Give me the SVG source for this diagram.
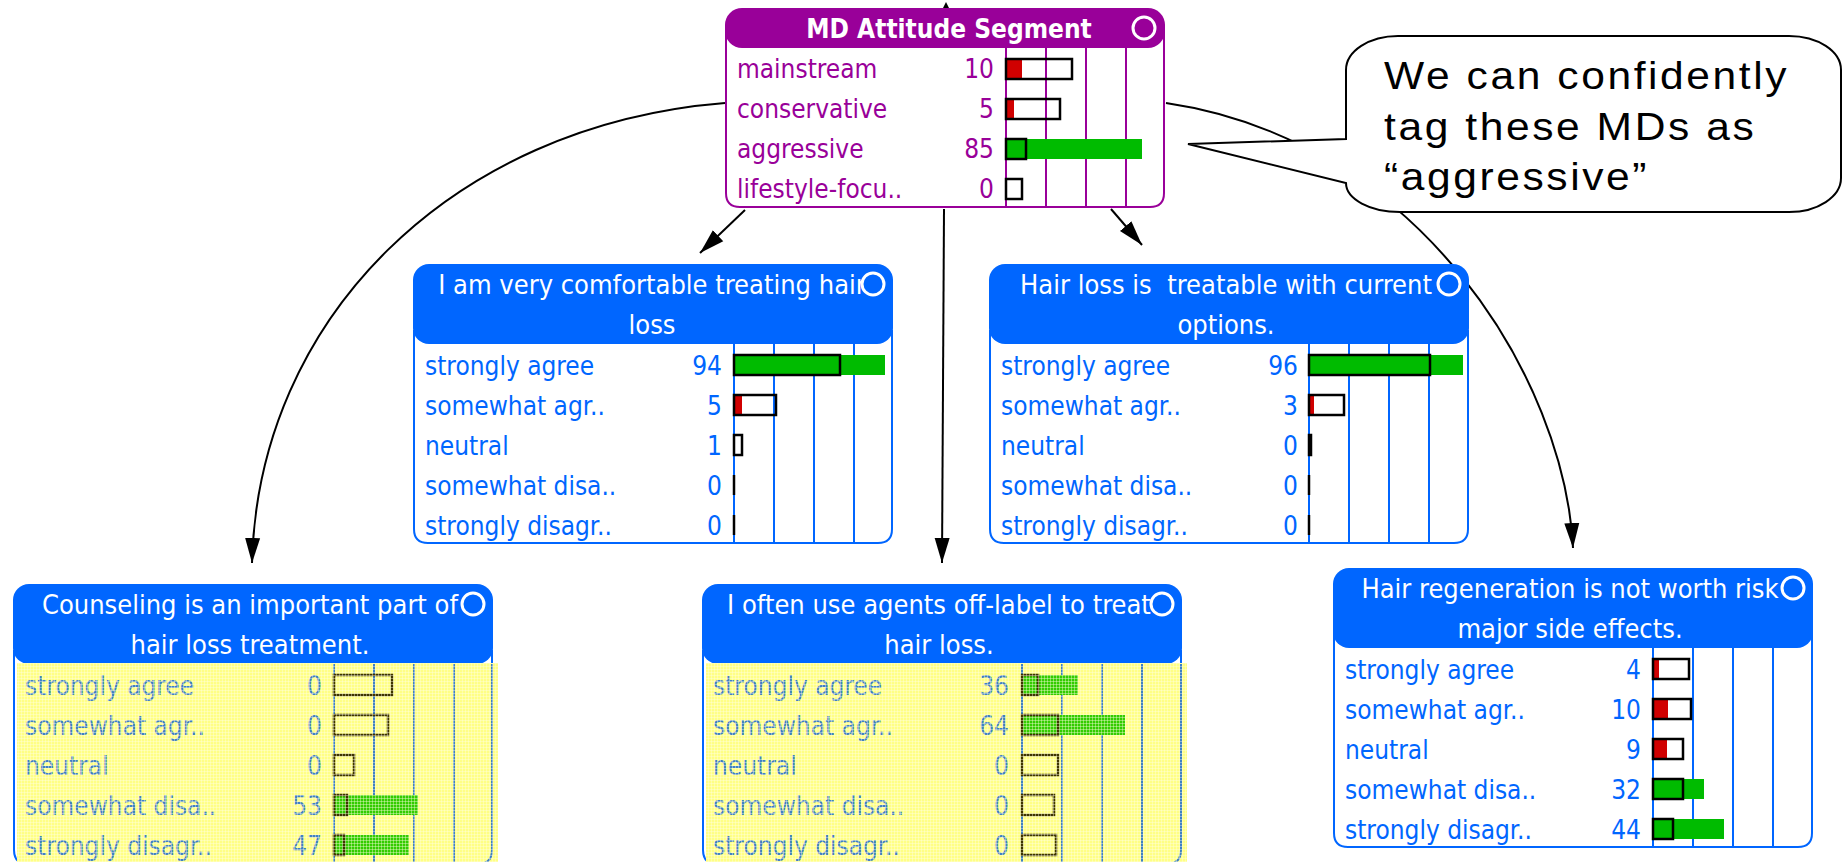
<svg xmlns="http://www.w3.org/2000/svg" width="1844" height="862" viewBox="0 0 1844 862">
  <style>
    .t { font-family: 'DejaVu Sans Condensed', 'DejaVu Sans', sans-serif; font-stretch: condensed; font-size: 26px; }
    .hd { fill: #ffffff; text-anchor: middle; font-size: 27px; }
    .ttl { font-weight: bold; font-size: 26px; }
    .val { text-anchor: end; }
    .pu { fill: #990099; }
    .bl { fill: #0066ff; }
    .mt { fill: #3f80c4; }
    .body-pu { fill: #ffffff; stroke: #990099; stroke-width: 2; }
    .body-bl { fill: #ffffff; stroke: #0066ff; stroke-width: 2; }
    .grid-pu { stroke: #990099; stroke-width: 2; }
    .grid-bl { stroke: #0066ff; stroke-width: 2; }
    .grid-mt { stroke: #3f80c4; stroke-width: 2; fill: none; }
    .box { fill: none; stroke: #000000; stroke-width: 2.5; }
    .box-mt { fill: none; stroke: #3d3300; stroke-width: 2.5; }
    .zero { stroke: #000000; stroke-width: 2.5; }
    .red { fill: #d00000; }
    .grn { fill: #00bb00; }
    .grn-mt { fill: #33cc00; }
    .yel { fill: #ffff85; }
    .icon { stroke: #ffffff; stroke-width: 3; }
    .edge { fill: none; stroke: #000000; stroke-width: 2; }
    .note { font-family: 'Liberation Sans', Arial, sans-serif; font-size: 38px; letter-spacing: 2.3px; fill: #000000; }
  </style>
  <defs>
    <marker id="arrow" markerUnits="userSpaceOnUse" markerWidth="26" markerHeight="16" refX="25" refY="8" orient="auto">
      <path d="M0,0.5 L25,8 L0,15.5 Z" fill="#000000"/>
    </marker>
    <!-- fine light grid laid over the evidence (yellow) panels -->
    <pattern id="hatch" width="3" height="3" patternUnits="userSpaceOnUse">
      <rect width="3" height="1" fill="#ffffe0" fill-opacity="0.4"/>
      <rect width="1" height="3" fill="#ffffe0" fill-opacity="0.4"/>
    </pattern>
  </defs>

  <rect width="1844" height="862" fill="#ffffff"/>

  <!-- connectors -->
  <g id="connectors">
    <path class="edge" d="M725,103 C450,125 258,320 252,563" marker-end="url(#arrow)"/>
    <path class="edge" d="M745,210 L700,253" marker-end="url(#arrow)"/>
    <path class="edge" d="M944,209 L942,563" marker-end="url(#arrow)"/>
    <path class="edge" d="M1111,209 L1142,245" marker-end="url(#arrow)"/>
    <path class="edge" d="M1166,103 C1420,140 1565,380 1573,548" marker-end="url(#arrow)"/>
    <path d="M946,2 L941,12 L951,12 Z" fill="#000000"/>
    <path class="edge" d="M392,892 L362,853" marker-end="url(#arrow)"/>
    <path class="edge" d="M770,892 L786,856" marker-end="url(#arrow)"/>
  </g>

  <!-- MD Attitude Segment -->
  <g id="md-attitude-segment" class="t">
    <path class="body-pu" d="M726,30 V193 Q726,207 740,207 H1150 Q1164,207 1164,193 V30"/>
    <g class="grid-pu">
      <line x1="1006" y1="48" x2="1006" y2="207"/>
      <line x1="1046" y1="48" x2="1046" y2="207"/>
      <line x1="1086" y1="48" x2="1086" y2="207"/>
      <line x1="1126" y1="48" x2="1126" y2="207"/>
    </g>
    <rect x="725" y="8" width="440" height="40" rx="17" class="pu"/>
    <text x="949" y="38" class="hd ttl">MD Attitude Segment</text>
    <circle cx="1144" cy="28" r="11" class="pu icon"/>
    <g class="pu">
      <text x="737" y="78">mainstream</text>
      <text x="994" y="78" class="val">10</text>
      <text x="737" y="118">conservative</text>
      <text x="994" y="118" class="val">5</text>
      <text x="737" y="158">aggressive</text>
      <text x="994" y="158" class="val">85</text>
      <text x="737" y="198">lifestyle-focu..</text>
      <text x="994" y="198" class="val">0</text>
    </g>
    <rect x="1006" y="59" width="16" height="20" class="red"/>
    <rect x="1006" y="59" width="66" height="20" class="box"/>
    <rect x="1006" y="99" width="8" height="20" class="red"/>
    <rect x="1006" y="99" width="54" height="20" class="box"/>
    <rect x="1006" y="139" width="136" height="20" class="grn"/>
    <rect x="1006" y="139" width="20" height="20" class="box"/>
    <rect x="1006" y="179" width="16" height="20" class="box"/>
  </g>

  <!-- I am very comfortable treating hair loss -->
  <g id="comfortable-treating" class="t">
    <path class="body-bl" d="M414,330 V529 Q414,543 428,543 H878 Q892,543 892,529 V330"/>
    <g class="grid-bl">
      <line x1="734" y1="344" x2="734" y2="543"/>
      <line x1="774" y1="344" x2="774" y2="543"/>
      <line x1="814" y1="344" x2="814" y2="543"/>
      <line x1="854" y1="344" x2="854" y2="543"/>
    </g>
    <rect x="413" y="264" width="480" height="80" rx="16" class="bl"/>
    <text x="652" y="294" class="hd">I am very comfortable treating hair</text>
    <text x="652" y="334" class="hd">loss</text>
    <circle cx="873" cy="284" r="11" class="bl icon"/>
    <g class="bl">
      <text x="425" y="375">strongly agree</text>
      <text x="722" y="375" class="val">94</text>
      <text x="425" y="415">somewhat agr..</text>
      <text x="722" y="415" class="val">5</text>
      <text x="425" y="455">neutral</text>
      <text x="722" y="455" class="val">1</text>
      <text x="425" y="495">somewhat disa..</text>
      <text x="722" y="495" class="val">0</text>
      <text x="425" y="535">strongly disagr..</text>
      <text x="722" y="535" class="val">0</text>
    </g>
    <rect x="734" y="355" width="151" height="20" class="grn"/>
    <rect x="734" y="355" width="106" height="20" class="box"/>
    <rect x="734" y="395" width="8" height="20" class="red"/>
    <rect x="734" y="395" width="42" height="20" class="box"/>
    <rect x="734" y="435" width="8" height="20" class="box"/>
    <line x1="734" y1="475" x2="734" y2="495" class="zero"/>
    <line x1="734" y1="515" x2="734" y2="535" class="zero"/>
  </g>

  <!-- Hair loss is treatable with current options -->
  <g id="treatable-options" class="t">
    <path class="body-bl" d="M990,330 V529 Q990,543 1004,543 H1454 Q1468,543 1468,529 V330"/>
    <g class="grid-bl">
      <line x1="1309" y1="344" x2="1309" y2="543"/>
      <line x1="1349" y1="344" x2="1349" y2="543"/>
      <line x1="1389" y1="344" x2="1389" y2="543"/>
      <line x1="1429" y1="344" x2="1429" y2="543"/>
    </g>
    <rect x="989" y="264" width="480" height="80" rx="16" class="bl"/>
    <text x="1226" y="294" class="hd">Hair loss is&#160; treatable with current</text>
    <text x="1226" y="334" class="hd">options.</text>
    <circle cx="1449" cy="284" r="11" class="bl icon"/>
    <g class="bl">
      <text x="1001" y="375">strongly agree</text>
      <text x="1298" y="375" class="val">96</text>
      <text x="1001" y="415">somewhat agr..</text>
      <text x="1298" y="415" class="val">3</text>
      <text x="1001" y="455">neutral</text>
      <text x="1298" y="455" class="val">0</text>
      <text x="1001" y="495">somewhat disa..</text>
      <text x="1298" y="495" class="val">0</text>
      <text x="1001" y="535">strongly disagr..</text>
      <text x="1298" y="535" class="val">0</text>
    </g>
    <rect x="1309" y="355" width="154" height="20" class="grn"/>
    <rect x="1309" y="355" width="121" height="20" class="box"/>
    <rect x="1309" y="395" width="5" height="20" class="red"/>
    <rect x="1309" y="395" width="35" height="20" class="box"/>
    <rect x="1309" y="435" width="2" height="20" class="box"/>
    <line x1="1309" y1="475" x2="1309" y2="495" class="zero"/>
    <line x1="1309" y1="515" x2="1309" y2="535" class="zero"/>
  </g>

  <!-- Counseling is an important part of hair loss treatment (evidence set) -->
  <g id="counseling-important" class="t">
    <path class="body-bl" d="M14,650 V850 Q14,864 28,864 H478 Q492,864 492,850 V650"/>
    <rect x="13" y="584" width="480" height="80" rx="16" class="bl"/>
    <text x="250" y="614" class="hd">Counseling is an important part of</text>
    <text x="250" y="654" class="hd">hair loss treatment.</text>
    <circle cx="473" cy="604" r="11" class="bl icon"/>
    <rect x="17" y="663" width="481" height="199" class="yel"/>
    <g class="grid-mt">
      <line x1="334" y1="664" x2="334" y2="864"/>
      <line x1="374" y1="664" x2="374" y2="864"/>
      <line x1="414" y1="664" x2="414" y2="864"/>
      <line x1="454" y1="664" x2="454" y2="864"/>
      <path d="M492,664 V850 Q492,864 478,864"/>
    </g>
    <g class="mt">
      <text x="25" y="695">strongly agree</text>
      <text x="322" y="695" class="val">0</text>
      <text x="25" y="735">somewhat agr..</text>
      <text x="322" y="735" class="val">0</text>
      <text x="25" y="775">neutral</text>
      <text x="322" y="775" class="val">0</text>
      <text x="25" y="815">somewhat disa..</text>
      <text x="322" y="815" class="val">53</text>
      <text x="25" y="855">strongly disagr..</text>
      <text x="322" y="855" class="val">47</text>
    </g>
    <rect x="334" y="675" width="58" height="20" class="box-mt"/>
    <rect x="334" y="715" width="54" height="20" class="box-mt"/>
    <rect x="334" y="755" width="20" height="20" class="box-mt"/>
    <rect x="334" y="795" width="84" height="20" class="grn-mt"/>
    <rect x="334" y="795" width="13" height="20" class="box-mt"/>
    <rect x="334" y="835" width="75" height="20" class="grn-mt"/>
    <rect x="334" y="835" width="10" height="20" class="box-mt"/>
    <rect x="17" y="663" width="481" height="199" fill="url(#hatch)"/>
  </g>

  <!-- I often use agents off-label to treat hair loss (evidence set) -->
  <g id="off-label-agents" class="t">
    <path class="body-bl" d="M703,650 V850 Q703,864 717,864 H1167 Q1181,864 1181,850 V650"/>
    <rect x="702" y="584" width="480" height="80" rx="16" class="bl"/>
    <text x="939" y="614" class="hd">I often use agents off-label to treat</text>
    <text x="939" y="654" class="hd">hair loss.</text>
    <circle cx="1162" cy="604" r="11" class="bl icon"/>
    <rect x="706" y="663" width="481" height="199" class="yel"/>
    <g class="grid-mt">
      <line x1="1022" y1="664" x2="1022" y2="864"/>
      <line x1="1062" y1="664" x2="1062" y2="864"/>
      <line x1="1102" y1="664" x2="1102" y2="864"/>
      <line x1="1142" y1="664" x2="1142" y2="864"/>
      <path d="M1181,664 V850 Q1181,864 1167,864"/>
    </g>
    <g class="mt">
      <text x="713" y="695">strongly agree</text>
      <text x="1009" y="695" class="val">36</text>
      <text x="713" y="735">somewhat agr..</text>
      <text x="1009" y="735" class="val">64</text>
      <text x="713" y="775">neutral</text>
      <text x="1009" y="775" class="val">0</text>
      <text x="713" y="815">somewhat disa..</text>
      <text x="1009" y="815" class="val">0</text>
      <text x="713" y="855">strongly disagr..</text>
      <text x="1009" y="855" class="val">0</text>
    </g>
    <rect x="1022" y="675" width="56" height="20" class="grn-mt"/>
    <rect x="1022" y="675" width="16" height="20" class="box-mt"/>
    <rect x="1022" y="715" width="103" height="20" class="grn-mt"/>
    <rect x="1022" y="715" width="36" height="20" class="box-mt"/>
    <rect x="1022" y="755" width="36" height="20" class="box-mt"/>
    <rect x="1022" y="795" width="32" height="20" class="box-mt"/>
    <rect x="1022" y="835" width="34" height="20" class="box-mt"/>
    <rect x="706" y="663" width="481" height="199" fill="url(#hatch)"/>
  </g>

  <!-- Hair regeneration is not worth risk major side effects -->
  <g id="regeneration-risk" class="t">
    <path class="body-bl" d="M1334,630 V833 Q1334,847 1348,847 H1798 Q1812,847 1812,833 V630"/>
    <g class="grid-bl">
      <line x1="1653" y1="648" x2="1653" y2="847"/>
      <line x1="1693" y1="648" x2="1693" y2="847"/>
      <line x1="1733" y1="648" x2="1733" y2="847"/>
      <line x1="1773" y1="648" x2="1773" y2="847"/>
    </g>
    <rect x="1333" y="568" width="480" height="80" rx="16" class="bl"/>
    <text x="1570" y="598" class="hd">Hair regeneration is not worth risk</text>
    <text x="1570" y="638" class="hd">major side effects.</text>
    <circle cx="1793" cy="588" r="11" class="bl icon"/>
    <g class="bl">
      <text x="1345" y="679">strongly agree</text>
      <text x="1641" y="679" class="val">4</text>
      <text x="1345" y="719">somewhat agr..</text>
      <text x="1641" y="719" class="val">10</text>
      <text x="1345" y="759">neutral</text>
      <text x="1641" y="759" class="val">9</text>
      <text x="1345" y="799">somewhat disa..</text>
      <text x="1641" y="799" class="val">32</text>
      <text x="1345" y="839">strongly disagr..</text>
      <text x="1641" y="839" class="val">44</text>
    </g>
    <rect x="1653" y="659" width="6" height="20" class="red"/>
    <rect x="1653" y="659" width="36" height="20" class="box"/>
    <rect x="1653" y="699" width="15" height="20" class="red"/>
    <rect x="1653" y="699" width="38" height="20" class="box"/>
    <rect x="1653" y="739" width="14" height="20" class="red"/>
    <rect x="1653" y="739" width="30" height="20" class="box"/>
    <rect x="1653" y="779" width="51" height="20" class="grn"/>
    <rect x="1653" y="779" width="30" height="20" class="box"/>
    <rect x="1653" y="819" width="71" height="20" class="grn"/>
    <rect x="1653" y="819" width="20" height="20" class="box"/>
  </g>

  <!-- speech bubble -->
  <g id="callout">
    <path d="M1398,36 H1789 A52,34 0 0 1 1841,70 V178 A52,34 0 0 1 1789,212 H1400 A54,29 0 0 1 1346,183 L1188,144 L1346,139 V70 A52,34 0 0 1 1398,36 Z" fill="#ffffff" stroke="#000000" stroke-width="2"/>
    <g class="note" transform="translate(1384,0) scale(1.12,1)">
      <text x="0" y="89">We can confidently</text>
      <text x="0" y="140">tag these MDs as</text>
      <text x="0" y="190">“aggressive”</text>
    </g>
  </g>
</svg>
